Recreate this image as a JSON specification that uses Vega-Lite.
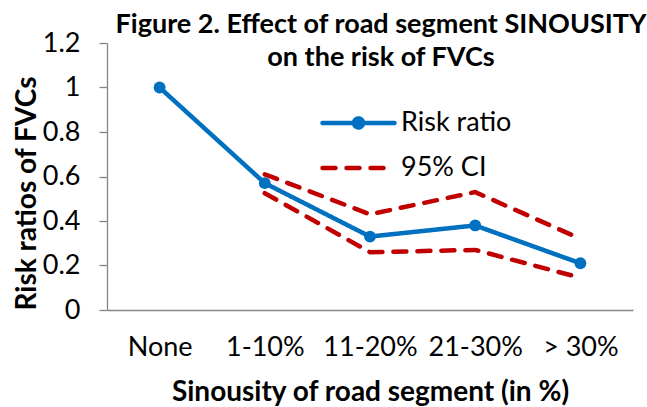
{
  "$schema": "https://vega.github.io/schema/vega-lite/v6.json",
  "width": 526,
  "height": 267,
  "autosize": {"type": "none"},
  "padding": {"left": 107, "top": 43, "right": 14, "bottom": 97},
  "background": "white",
  "config": {"view": {"stroke": null}},
  "title": {
    "text": ["Figure 2. Effect of road segment SINOUSITY", "on the risk of FVCs"],
    "font": "Lato",
    "fontSize": 27,
    "fontWeight": "bold",
    "color": "black",
    "anchor": "middle",
    "dx": 11,
    "baseline": "bottom",
    "lineHeight": 33,
    "offset": -70
  },
  "data": {
    "values": [
      {"cat": "None", "series": "Risk ratio", "line": "est", "value": 1.0},
      {"cat": "1-10%", "series": "Risk ratio", "line": "est", "value": 0.57},
      {"cat": "11-20%", "series": "Risk ratio", "line": "est", "value": 0.33},
      {"cat": "21-30%", "series": "Risk ratio", "line": "est", "value": 0.38},
      {"cat": "> 30%", "series": "Risk ratio", "line": "est", "value": 0.21},
      {"cat": "1-10%", "series": "95% CI", "line": "upper", "value": 0.61},
      {"cat": "11-20%", "series": "95% CI", "line": "upper", "value": 0.43},
      {"cat": "21-30%", "series": "95% CI", "line": "upper", "value": 0.53},
      {"cat": "> 30%", "series": "95% CI", "line": "upper", "value": 0.32},
      {"cat": "1-10%", "series": "95% CI", "line": "lower", "value": 0.525},
      {"cat": "11-20%", "series": "95% CI", "line": "lower", "value": 0.26},
      {"cat": "21-30%", "series": "95% CI", "line": "lower", "value": 0.27},
      {"cat": "> 30%", "series": "95% CI", "line": "lower", "value": 0.145}
    ]
  },
  "encoding": {
    "x": {
      "field": "cat",
      "type": "ordinal",
      "sort": ["None", "1-10%", "11-20%", "21-30%", "> 30%"],
      "scale": {"type": "point", "padding": 0.5},
      "axis": {
        "labelAngle": 0,
        "ticks": false,
        "grid": false,
        "domainColor": "#868686",
        "domainWidth": 1.3,
        "labelPadding": 24,
        "labelFont": "Lato",
        "labelFontSize": 27,
        "labelColor": "black",
        "title": "Sinousity of road segment (in %)",
        "titleFont": "Lato",
        "titleFontSize": 28,
        "titleFontWeight": "bold",
        "titleColor": "black",
        "titleY": 90,
        "titleBaseline": "alphabetic"
      }
    },
    "y": {
      "field": "value",
      "type": "quantitative",
      "scale": {"domain": [0, 1.2]},
      "axis": {
        "values": [0, 0.2, 0.4, 0.6, 0.8, 1, 1.2],
        "format": ".1~f",
        "grid": false,
        "domainColor": "#868686",
        "domainWidth": 1.3,
        "tickColor": "#868686",
        "tickWidth": 1.3,
        "tickSize": 8,
        "labelFont": "Lato",
        "labelFontSize": 27,
        "labelColor": "black",
        "labelPadding": 19,
        "title": "Risk ratios of FVCs",
        "titleFont": "Lato",
        "titleFontSize": 28,
        "titleFontWeight": "bold",
        "titleColor": "black",
        "titleAngle": 270,
        "titleX": -72,
        "titleY": 150,
        "titleAlign": "center",
        "titleBaseline": "alphabetic"
      }
    }
  },
  "layer": [
    {
      "transform": [{"filter": "datum.series == '95% CI'"}],
      "mark": {"type": "line", "strokeWidth": 4.5, "strokeCap": "round"},
      "encoding": {
        "detail": {"field": "line"},
        "color": {
          "field": "series",
          "type": "nominal",
          "scale": {"domain": ["Risk ratio", "95% CI"], "range": ["#0070C0", "#C00000"]},
          "legend": {
            "title": null,
            "orient": "none",
            "legendX": 213,
            "legendY": 65,
            "padding": 0,
            "clipHeight": 30,
            "rowPadding": 15,
            "symbolSize": 5184,
            "symbolStrokeWidth": 4.5,
            "symbolOffset": 0,
            "labelFont": "Lato",
            "labelFontSize": 27,
            "labelColor": "black",
            "labelOffset": 4,
            "encode": {
              "symbols": {
                "update": {
                  "shape": {"signal": "datum.value == 'Risk ratio' ? 'M-1,0L1,0M-0.125,0A0.125,0.125 0 1 0 0.125,0A0.125,0.125 0 1 0 -0.125,0Z' : 'M-1,0L0.72,0'"},
                  "fill": {"signal": "datum.value == 'Risk ratio' ? '#0070C0' : 'transparent'"},
                  "strokeCap": {"value": "round"}
                }
              }
            }
          }
        },
        "strokeDash": {
          "field": "series",
          "type": "nominal",
          "scale": {"domain": ["Risk ratio", "95% CI"], "range": [[1, 0], [13, 11]]}
        }
      }
    },
    {
      "transform": [{"filter": "datum.series == 'Risk ratio'"}],
      "mark": {"type": "line", "strokeWidth": 4.5, "strokeCap": "round"},
      "encoding": {
        "color": {"field": "series", "type": "nominal"},
        "strokeDash": {"field": "series", "type": "nominal"}
      }
    },
    {
      "transform": [{"filter": "datum.series == 'Risk ratio'"}],
      "mark": {"type": "point", "filled": true, "opacity": 1, "size": 140},
      "encoding": {
        "color": {"field": "series", "type": "nominal"}
      }
    }
  ]
}
